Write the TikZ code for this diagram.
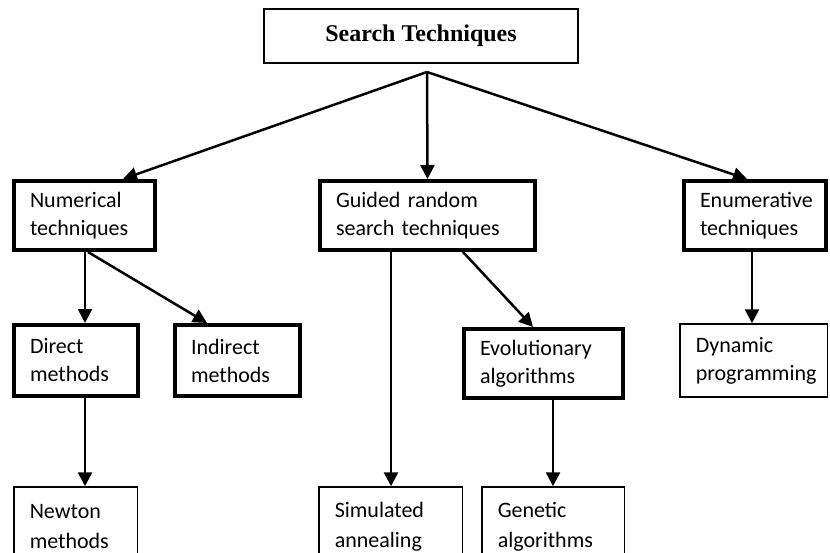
\documentclass[tikz,border=0pt]{standalone}
\usepackage{fontspec}
\setmainfont{Carlito}
\newfontfamily\titlefont{Liberation Serif}
\usetikzlibrary{arrows.meta,positioning}
\hyphenpenalty=10000
\exhyphenpenalty=10000

\begin{document}
\begin{tikzpicture}[x=0.5pt, y=-0.5pt,
		box/.style={draw, line width=2pt, align=left, inner xsep=8pt,
			inner ysep=0pt, font=\fontsize{11}{14}\selectfont},
		thinbox/.style={box, line width=0.75pt},
		lowbox/.style={thinbox, minimum height=40pt,
			font=\fontsize{11}{15}\selectfont},
		titlebox/.style={draw, line width=0.75pt, minimum width=157pt,
			minimum height=27pt, font=\titlefont\bfseries\fontsize{12}{14}\selectfont},
		arrow/.style={-{Triangle[length=7pt,width=7pt]}, line width=1.25pt}
	]
		\useasboundingbox (0,0) rectangle (830,552);
		\clip (0,0) rectangle (830,552);

		\node[titlebox] (a) at (421,36) {Search Techniques};
		\coordinate (hub) at (427,72);

		\node[box, text width=54.5pt, minimum height=34.5pt] (b) at (84.5,215.5) {Numerical\\techniques};
		\node[box, text width=91.5pt, minimum height=34.5pt] (c) at (427.5,215.5) {Guided random\\search techniques};
		\node[box, text width=55pt, minimum height=34.5pt] (d) at (755,215.5) {Enumerative\\techniques};

		\node[box, text width=46pt, minimum height=35.5pt] (e) at (76,360.5) {Direct\\methods};
		\node[box, text width=46.5pt, minimum height=35.5pt] (f) at (237.5,360.5) {Indirect\\methods};
		\node[box, text width=63.5pt, minimum height=34.5pt] (g) at (543.5,363.5) {Evolutionary\\algorithms};
		\node[thinbox, text width=57.75pt, minimum height=36.5pt] (h) at (753.5,360.5) {Dynamic\\programming};

		\node[lowbox, text width=45.75pt] (i) at (75.5,527) {Newton\\methods};
		\node[lowbox, text width=55.75pt] (j) at (390.5,527) {Simulated\\annealing};
		\node[lowbox, text width=55.25pt] (k) at (553,527) {Genetic\\algorithms};

		% top level
		\draw[arrow] (hub) -- ([xshift=55.5pt]b.north west);
		\draw[arrow] (hub) -- (c.north);
		\draw[arrow] (hub) -- ([xshift=32.5pt]d.north west);

		% second level
		\draw[arrow] ([xshift=36.5pt]b.south west) -- ([xshift=36.5pt]e.north west);
		\draw[arrow] ([xshift=38pt]b.south west) -- ([xshift=17pt]f.north west);
		\draw[arrow] ([xshift=36.5pt]c.south west) -- ([xshift=36.5pt]j.north west);
		\draw[arrow] ([xshift=72.5pt]c.south west) -- ([xshift=35.5pt]g.north west);
		\draw[arrow] ([xshift=35pt]d.south west) -- ([xshift=36.5pt]h.north west);

		% third level
		\draw[arrow] ([xshift=36.5pt]e.south west) -- ([xshift=36pt]i.north west);
		\draw[arrow] ([xshift=45.5pt]g.south west) -- ([xshift=36pt]k.north west);
	\end{tikzpicture}
\end{document}
